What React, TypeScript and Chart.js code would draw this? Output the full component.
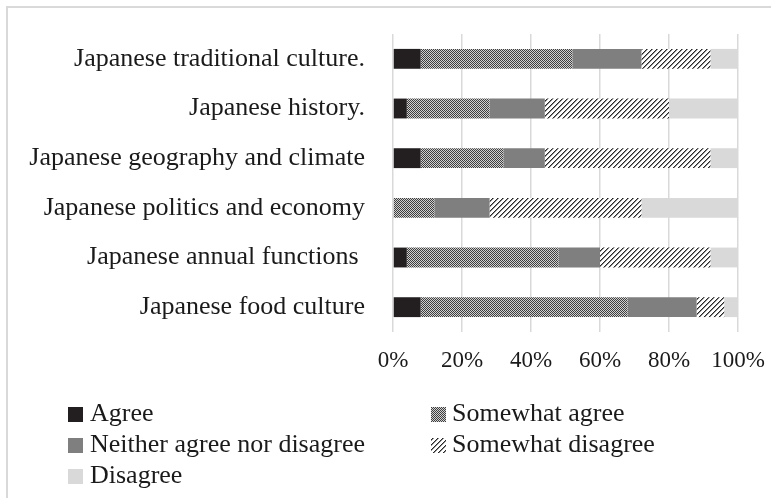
import React, { useEffect, useRef } from "react";
import { Chart, registerables } from "chart.js";

Chart.register(...registerables);

const categories = [
  "Japanese traditional culture.",
  "Japanese history.",
  "Japanese geography and climate",
  "Japanese politics and economy",
  "Japanese annual functions ",
  "Japanese food culture",
];

const seriesNames = [
  "Agree",
  "Somewhat agree",
  "Neither agree nor disagree",
  "Somewhat disagree",
  "Disagree",
];

const agree = [8, 4, 8, 0, 4, 8];
const somewhatAgree = [44, 24, 24, 12, 44, 60];
const neither = [20, 16, 12, 16, 12, 20];
const somewhatDisagree = [20, 36, 48, 44, 32, 8];
const disagree = [8, 20, 8, 28, 8, 4];

const xTickValues = [0, 20, 40, 60, 80, 100];

const FONT = '"Liberation Serif", "Times New Roman", serif';

function makePixelPattern(size: number, fn: (x: number, y: number) => [number, number, number]) {
  const c = document.createElement("canvas");
  c.width = size;
  c.height = size;
  const cx = c.getContext("2d")!;
  const img = cx.createImageData(size, size);
  for (let y = 0; y < size; y++) {
    for (let x = 0; x < size; x++) {
      const [r, g, b] = fn(x, y);
      const i = (y * size + x) * 4;
      img.data[i] = r;
      img.data[i + 1] = g;
      img.data[i + 2] = b;
      img.data[i + 3] = 255;
    }
  }
  cx.putImageData(img, 0, 0);
  return c;
}

function zeroPadding(scale: any) {
  scale.paddingLeft = 0;
  scale.paddingRight = 0;
  scale.paddingTop = 0;
  scale.paddingBottom = 0;
}

export default function App() {
  const ref = useRef<HTMLCanvasElement | null>(null);

  useEffect(() => {
    const canvas = ref.current!;
    const ctx = canvas.getContext("2d")!;

    const checkTile = makePixelPattern(2, (x, y) =>
      (x + y) % 2 === 0 ? [62, 62, 62] : [208, 208, 208]
    );
    const stripeTile = makePixelPattern(5, (x, y) => {
      const k = (x + y) % 5;
      if (k === 0) return [40, 40, 40];
      if (k === 1) return [140, 140, 140];
      return [255, 255, 255];
    });
    const checkPattern = ctx.createPattern(checkTile, "repeat")!;
    const stripePattern = ctx.createPattern(stripeTile, "repeat")!;

    const fills: (string | CanvasPattern)[] = [
      "#231f20",
      checkPattern,
      "#7f7f7f",
      stripePattern,
      "#d9d9d9",
    ];
    const values = [agree, somewhatAgree, neither, somewhatDisagree, disagree];

    const framePlugin = {
      id: "frame",
      beforeDraw(chart: any) {
        const c = chart.ctx;
        c.save();
        c.fillStyle = "#ffffff";
        c.fillRect(0, 0, chart.width, chart.height);
        c.strokeStyle = "#d9d9d9";
        c.lineWidth = 2;
        c.beginPath();
        c.moveTo(7, chart.height + 2);
        c.lineTo(7, 7);
        c.lineTo(chart.width + 2, 7);
        c.stroke();
        c.restore();
      },
    };

    const legendPlugin = {
      id: "gridLegend",
      afterDraw(chart: any) {
        const c = chart.ctx;
        const colX = [68, 431];
        const rowY = [407, 438, 469];
        const box = 15;
        c.save();
        c.font = `26px ${FONT}`;
        c.textBaseline = "alphabetic";
        c.textAlign = "left";
        chart.data.datasets.forEach((ds: any, i: number) => {
          const col = i % 2;
          const row = Math.floor(i / 2);
          const bx = colX[col];
          const by = rowY[row];
          c.fillStyle = ds.backgroundColor;
          c.fillRect(bx, by, box, box);
          c.fillStyle = "#1a1a1a";
          c.fillText(ds.label, bx + box + (col === 0 ? 7 : 6), by + box / 2 + 6);
        });
        c.restore();
      },
    };

    const chart = new Chart(canvas, {
      type: "bar",
      data: {
        labels: categories,
        datasets: seriesNames.map((name, i) => ({
          label: name,
          data: values[i],
          backgroundColor: fills[i] as any,
          borderWidth: 0,
          barPercentage: 0.8,
          categoryPercentage: 0.5,
        })),
      },
      options: {
        indexAxis: "y",
        responsive: false,
        animation: false,
        layout: { padding: { left: 0, top: 34, right: 33, bottom: 126 } },
        plugins: {
          legend: { display: false },
          tooltip: { enabled: false },
        },
        scales: {
          x: {
            stacked: true,
            min: 0,
            max: 100,
            afterBuildTicks(scale: any) {
              scale.ticks = xTickValues.map((v) => ({ value: v }));
            },
            afterFit(scale: any) {
              scale.height = 40;
              zeroPadding(scale);
            },
            ticks: {
              callback: (v: any) => `${v}%`,
              font: { family: FONT, size: 23 },
              color: "#1a1a1a",
              padding: 15,
              maxRotation: 0,
            },
            grid: {
              color: "#d9d9d9",
              lineWidth: 1.5,
              drawTicks: false,
            },
            border: { display: false },
          },
          y: {
            stacked: true,
            afterFit(scale: any) {
              scale.width = 393;
              zeroPadding(scale);
            },
            ticks: {
              font: { family: FONT, size: 26 },
              color: "#1a1a1a",
              padding: 28,
            },
            grid: { display: false, drawTicks: false },
            border: { display: false },
          },
        },
      },
      plugins: [framePlugin, legendPlugin],
    });

    return () => chart.destroy();
  }, []);

  return (
    <div style={{ position: "absolute", left: 0, top: 0, width: 771, height: 498, background: "#fff" }}>
      <canvas ref={ref} width={771} height={498} style={{ display: "block", width: 771, height: 498 }} />
    </div>
  );
}
